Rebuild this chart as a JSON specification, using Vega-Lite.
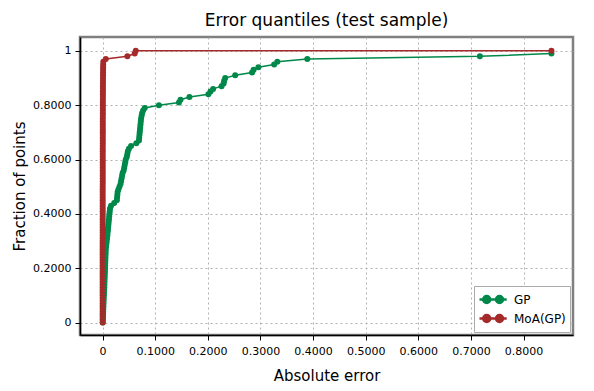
{
  "$schema": "https://vega.github.io/schema/vega-lite/v6.json",
  "autosize": {"type": "none"},
  "width": 493,
  "height": 298,
  "padding": {"left": 80, "top": 37, "right": 21, "bottom": 56},
  "config": {
    "font": "DejaVu Sans",
    "view": {"stroke": "#808080", "strokeWidth": 2.5},
    "axis": {
      "domainColor": "#000000",
      "domainWidth": 1.5,
      "tickColor": "#000000",
      "tickSize": 5,
      "tickWidth": 1,
      "labelFont": "DejaVu Sans",
      "labelFontSize": 11,
      "labelColor": "#000000",
      "titleFont": "DejaVu Sans",
      "titleFontSize": 15,
      "titleFontWeight": "normal",
      "titleColor": "#000000",
      "gridColor": "#b0b0b0",
      "gridDash": [2, 3],
      "gridWidth": 1
    }
  },
  "title": {
    "text": "Error quantiles (test sample)",
    "font": "DejaVu Sans",
    "fontSize": 17,
    "fontWeight": "normal",
    "color": "#000000",
    "anchor": "middle",
    "offset": 7
  },
  "datasets": {
    "pts": [
      {"s": "GP", "x": 0.0003, "y": 0.00},
      {"s": "GP", "x": 0.0005, "y": 0.01},
      {"s": "GP", "x": 0.0007, "y": 0.02},
      {"s": "GP", "x": 0.0009, "y": 0.03},
      {"s": "GP", "x": 0.0011, "y": 0.04},
      {"s": "GP", "x": 0.0013, "y": 0.05},
      {"s": "GP", "x": 0.0015, "y": 0.06},
      {"s": "GP", "x": 0.0017, "y": 0.07},
      {"s": "GP", "x": 0.0019, "y": 0.08},
      {"s": "GP", "x": 0.0022, "y": 0.09},
      {"s": "GP", "x": 0.0025, "y": 0.10},
      {"s": "GP", "x": 0.0028, "y": 0.11},
      {"s": "GP", "x": 0.0030, "y": 0.12},
      {"s": "GP", "x": 0.0032, "y": 0.13},
      {"s": "GP", "x": 0.0034, "y": 0.14},
      {"s": "GP", "x": 0.0036, "y": 0.15},
      {"s": "GP", "x": 0.0038, "y": 0.16},
      {"s": "GP", "x": 0.0040, "y": 0.17},
      {"s": "GP", "x": 0.0042, "y": 0.18},
      {"s": "GP", "x": 0.0044, "y": 0.19},
      {"s": "GP", "x": 0.0046, "y": 0.20},
      {"s": "GP", "x": 0.0048, "y": 0.21},
      {"s": "GP", "x": 0.0050, "y": 0.22},
      {"s": "GP", "x": 0.0052, "y": 0.23},
      {"s": "GP", "x": 0.0054, "y": 0.24},
      {"s": "GP", "x": 0.0056, "y": 0.25},
      {"s": "GP", "x": 0.0058, "y": 0.26},
      {"s": "GP", "x": 0.0060, "y": 0.27},
      {"s": "GP", "x": 0.0066, "y": 0.28},
      {"s": "GP", "x": 0.0072, "y": 0.29},
      {"s": "GP", "x": 0.0078, "y": 0.30},
      {"s": "GP", "x": 0.0084, "y": 0.31},
      {"s": "GP", "x": 0.0090, "y": 0.32},
      {"s": "GP", "x": 0.0095, "y": 0.33},
      {"s": "GP", "x": 0.0100, "y": 0.34},
      {"s": "GP", "x": 0.0105, "y": 0.35},
      {"s": "GP", "x": 0.0110, "y": 0.36},
      {"s": "GP", "x": 0.0115, "y": 0.37},
      {"s": "GP", "x": 0.0120, "y": 0.38},
      {"s": "GP", "x": 0.0125, "y": 0.39},
      {"s": "GP", "x": 0.0130, "y": 0.40},
      {"s": "GP", "x": 0.0135, "y": 0.41},
      {"s": "GP", "x": 0.0140, "y": 0.42},
      {"s": "GP", "x": 0.0160, "y": 0.43},
      {"s": "GP", "x": 0.0220, "y": 0.44},
      {"s": "GP", "x": 0.0270, "y": 0.45},
      {"s": "GP", "x": 0.0275, "y": 0.46},
      {"s": "GP", "x": 0.0280, "y": 0.47},
      {"s": "GP", "x": 0.0285, "y": 0.48},
      {"s": "GP", "x": 0.0300, "y": 0.49},
      {"s": "GP", "x": 0.0320, "y": 0.50},
      {"s": "GP", "x": 0.0340, "y": 0.51},
      {"s": "GP", "x": 0.0350, "y": 0.52},
      {"s": "GP", "x": 0.0360, "y": 0.53},
      {"s": "GP", "x": 0.0370, "y": 0.54},
      {"s": "GP", "x": 0.0380, "y": 0.55},
      {"s": "GP", "x": 0.0400, "y": 0.56},
      {"s": "GP", "x": 0.0410, "y": 0.57},
      {"s": "GP", "x": 0.0420, "y": 0.58},
      {"s": "GP", "x": 0.0430, "y": 0.59},
      {"s": "GP", "x": 0.0440, "y": 0.60},
      {"s": "GP", "x": 0.0460, "y": 0.61},
      {"s": "GP", "x": 0.0470, "y": 0.62},
      {"s": "GP", "x": 0.0480, "y": 0.63},
      {"s": "GP", "x": 0.0500, "y": 0.64},
      {"s": "GP", "x": 0.0540, "y": 0.65},
      {"s": "GP", "x": 0.0640, "y": 0.66},
      {"s": "GP", "x": 0.0690, "y": 0.67},
      {"s": "GP", "x": 0.0695, "y": 0.68},
      {"s": "GP", "x": 0.0700, "y": 0.69},
      {"s": "GP", "x": 0.0705, "y": 0.70},
      {"s": "GP", "x": 0.0710, "y": 0.71},
      {"s": "GP", "x": 0.0715, "y": 0.72},
      {"s": "GP", "x": 0.0720, "y": 0.73},
      {"s": "GP", "x": 0.0725, "y": 0.74},
      {"s": "GP", "x": 0.0730, "y": 0.75},
      {"s": "GP", "x": 0.0740, "y": 0.76},
      {"s": "GP", "x": 0.0750, "y": 0.77},
      {"s": "GP", "x": 0.0770, "y": 0.78},
      {"s": "GP", "x": 0.0800, "y": 0.79},
      {"s": "GP", "x": 0.1070, "y": 0.80},
      {"s": "GP", "x": 0.1450, "y": 0.81},
      {"s": "GP", "x": 0.1480, "y": 0.82},
      {"s": "GP", "x": 0.1650, "y": 0.83},
      {"s": "GP", "x": 0.2010, "y": 0.84},
      {"s": "GP", "x": 0.2050, "y": 0.85},
      {"s": "GP", "x": 0.2100, "y": 0.86},
      {"s": "GP", "x": 0.2260, "y": 0.87},
      {"s": "GP", "x": 0.2300, "y": 0.88},
      {"s": "GP", "x": 0.2310, "y": 0.89},
      {"s": "GP", "x": 0.2330, "y": 0.90},
      {"s": "GP", "x": 0.2520, "y": 0.91},
      {"s": "GP", "x": 0.2840, "y": 0.92},
      {"s": "GP", "x": 0.2870, "y": 0.93},
      {"s": "GP", "x": 0.2960, "y": 0.94},
      {"s": "GP", "x": 0.3260, "y": 0.95},
      {"s": "GP", "x": 0.3320, "y": 0.96},
      {"s": "GP", "x": 0.3890, "y": 0.97},
      {"s": "GP", "x": 0.7170, "y": 0.98},
      {"s": "GP", "x": 0.8530, "y": 0.99},
      {"s": "MoA(GP)", "x": 0.0000, "y": 0.00},
      {"s": "MoA(GP)", "x": 0.0000, "y": 0.01},
      {"s": "MoA(GP)", "x": 0.0000, "y": 0.02},
      {"s": "MoA(GP)", "x": 0.0000, "y": 0.03},
      {"s": "MoA(GP)", "x": 0.0000, "y": 0.04},
      {"s": "MoA(GP)", "x": 0.0000, "y": 0.05},
      {"s": "MoA(GP)", "x": 0.0000, "y": 0.06},
      {"s": "MoA(GP)", "x": 0.0000, "y": 0.07},
      {"s": "MoA(GP)", "x": 0.0000, "y": 0.08},
      {"s": "MoA(GP)", "x": 0.0000, "y": 0.09},
      {"s": "MoA(GP)", "x": 0.0000, "y": 0.10},
      {"s": "MoA(GP)", "x": 0.0000, "y": 0.11},
      {"s": "MoA(GP)", "x": 0.0000, "y": 0.12},
      {"s": "MoA(GP)", "x": 0.0000, "y": 0.13},
      {"s": "MoA(GP)", "x": 0.0000, "y": 0.14},
      {"s": "MoA(GP)", "x": 0.0000, "y": 0.15},
      {"s": "MoA(GP)", "x": 0.0000, "y": 0.16},
      {"s": "MoA(GP)", "x": 0.0000, "y": 0.17},
      {"s": "MoA(GP)", "x": 0.0000, "y": 0.18},
      {"s": "MoA(GP)", "x": 0.0000, "y": 0.19},
      {"s": "MoA(GP)", "x": 0.0000, "y": 0.20},
      {"s": "MoA(GP)", "x": 0.0000, "y": 0.21},
      {"s": "MoA(GP)", "x": 0.0000, "y": 0.22},
      {"s": "MoA(GP)", "x": 0.0000, "y": 0.23},
      {"s": "MoA(GP)", "x": 0.0000, "y": 0.24},
      {"s": "MoA(GP)", "x": 0.0000, "y": 0.25},
      {"s": "MoA(GP)", "x": 0.0000, "y": 0.26},
      {"s": "MoA(GP)", "x": 0.0000, "y": 0.27},
      {"s": "MoA(GP)", "x": 0.0000, "y": 0.28},
      {"s": "MoA(GP)", "x": 0.0000, "y": 0.29},
      {"s": "MoA(GP)", "x": 0.0000, "y": 0.30},
      {"s": "MoA(GP)", "x": 0.0001, "y": 0.31},
      {"s": "MoA(GP)", "x": 0.0001, "y": 0.32},
      {"s": "MoA(GP)", "x": 0.0001, "y": 0.33},
      {"s": "MoA(GP)", "x": 0.0001, "y": 0.34},
      {"s": "MoA(GP)", "x": 0.0001, "y": 0.35},
      {"s": "MoA(GP)", "x": 0.0001, "y": 0.36},
      {"s": "MoA(GP)", "x": 0.0001, "y": 0.37},
      {"s": "MoA(GP)", "x": 0.0001, "y": 0.38},
      {"s": "MoA(GP)", "x": 0.0001, "y": 0.39},
      {"s": "MoA(GP)", "x": 0.0001, "y": 0.40},
      {"s": "MoA(GP)", "x": 0.0001, "y": 0.41},
      {"s": "MoA(GP)", "x": 0.0001, "y": 0.42},
      {"s": "MoA(GP)", "x": 0.0001, "y": 0.43},
      {"s": "MoA(GP)", "x": 0.0001, "y": 0.44},
      {"s": "MoA(GP)", "x": 0.0001, "y": 0.45},
      {"s": "MoA(GP)", "x": 0.0001, "y": 0.46},
      {"s": "MoA(GP)", "x": 0.0001, "y": 0.47},
      {"s": "MoA(GP)", "x": 0.0001, "y": 0.48},
      {"s": "MoA(GP)", "x": 0.0001, "y": 0.49},
      {"s": "MoA(GP)", "x": 0.0001, "y": 0.50},
      {"s": "MoA(GP)", "x": 0.0002, "y": 0.51},
      {"s": "MoA(GP)", "x": 0.0002, "y": 0.52},
      {"s": "MoA(GP)", "x": 0.0002, "y": 0.53},
      {"s": "MoA(GP)", "x": 0.0002, "y": 0.54},
      {"s": "MoA(GP)", "x": 0.0002, "y": 0.55},
      {"s": "MoA(GP)", "x": 0.0002, "y": 0.56},
      {"s": "MoA(GP)", "x": 0.0002, "y": 0.57},
      {"s": "MoA(GP)", "x": 0.0002, "y": 0.58},
      {"s": "MoA(GP)", "x": 0.0002, "y": 0.59},
      {"s": "MoA(GP)", "x": 0.0002, "y": 0.60},
      {"s": "MoA(GP)", "x": 0.0002, "y": 0.61},
      {"s": "MoA(GP)", "x": 0.0002, "y": 0.62},
      {"s": "MoA(GP)", "x": 0.0002, "y": 0.63},
      {"s": "MoA(GP)", "x": 0.0002, "y": 0.64},
      {"s": "MoA(GP)", "x": 0.0002, "y": 0.65},
      {"s": "MoA(GP)", "x": 0.0003, "y": 0.66},
      {"s": "MoA(GP)", "x": 0.0003, "y": 0.67},
      {"s": "MoA(GP)", "x": 0.0003, "y": 0.68},
      {"s": "MoA(GP)", "x": 0.0003, "y": 0.69},
      {"s": "MoA(GP)", "x": 0.0003, "y": 0.70},
      {"s": "MoA(GP)", "x": 0.0003, "y": 0.71},
      {"s": "MoA(GP)", "x": 0.0003, "y": 0.72},
      {"s": "MoA(GP)", "x": 0.0003, "y": 0.73},
      {"s": "MoA(GP)", "x": 0.0003, "y": 0.74},
      {"s": "MoA(GP)", "x": 0.0003, "y": 0.75},
      {"s": "MoA(GP)", "x": 0.0004, "y": 0.76},
      {"s": "MoA(GP)", "x": 0.0004, "y": 0.77},
      {"s": "MoA(GP)", "x": 0.0004, "y": 0.78},
      {"s": "MoA(GP)", "x": 0.0004, "y": 0.79},
      {"s": "MoA(GP)", "x": 0.0004, "y": 0.80},
      {"s": "MoA(GP)", "x": 0.0004, "y": 0.81},
      {"s": "MoA(GP)", "x": 0.0005, "y": 0.82},
      {"s": "MoA(GP)", "x": 0.0005, "y": 0.83},
      {"s": "MoA(GP)", "x": 0.0005, "y": 0.84},
      {"s": "MoA(GP)", "x": 0.0005, "y": 0.85},
      {"s": "MoA(GP)", "x": 0.0006, "y": 0.86},
      {"s": "MoA(GP)", "x": 0.0006, "y": 0.87},
      {"s": "MoA(GP)", "x": 0.0006, "y": 0.88},
      {"s": "MoA(GP)", "x": 0.0007, "y": 0.89},
      {"s": "MoA(GP)", "x": 0.0007, "y": 0.90},
      {"s": "MoA(GP)", "x": 0.0008, "y": 0.91},
      {"s": "MoA(GP)", "x": 0.0008, "y": 0.92},
      {"s": "MoA(GP)", "x": 0.0009, "y": 0.93},
      {"s": "MoA(GP)", "x": 0.0010, "y": 0.94},
      {"s": "MoA(GP)", "x": 0.0011, "y": 0.95},
      {"s": "MoA(GP)", "x": 0.0013, "y": 0.96},
      {"s": "MoA(GP)", "x": 0.0060, "y": 0.97},
      {"s": "MoA(GP)", "x": 0.0470, "y": 0.98},
      {"s": "MoA(GP)", "x": 0.0610, "y": 0.99},
      {"s": "MoA(GP)", "x": 0.0630, "y": 1.00},
      {"s": "MoA(GP)", "x": 0.8530, "y": 1.00}
    ]
  },
  "data": {"name": "pts"},
  "encoding": {
    "x": {
      "field": "x",
      "type": "quantitative",
      "title": "Absolute error",
      "scale": {"domain": [-0.043, 0.894], "nice": false, "zero": false},
      "axis": {
        "values": [0, 0.1, 0.2, 0.3, 0.4, 0.5, 0.6, 0.7, 0.8],
        "labelExpr": "datum.value == 0 ? '0' : format(datum.value, '.4f')",
        "labelPadding": 5,
        "titlePadding": 12
      }
    },
    "y": {
      "field": "y",
      "type": "quantitative",
      "title": "Fraction of points",
      "scale": {"domain": [-0.046, 1.051], "nice": false, "zero": false},
      "axis": {
        "values": [0, 0.2, 0.4, 0.6, 0.8, 1],
        "labelExpr": "datum.value == 0 ? '0' : datum.value == 1 ? '1' : format(datum.value, '.4f')",
        "labelPadding": 4,
        "titlePadding": 5
      }
    },
    "color": {
      "field": "s",
      "type": "nominal",
      "scale": {"domain": ["GP", "MoA(GP)"], "range": ["#00884a", "#a52a2a"]},
      "legend": {
        "title": null,
        "orient": "bottom-right",
        "offset": 3,
        "padding": 4,
        "strokeColor": "#aaaaaa",
        "fillColor": "#ffffff",
        "cornerRadius": 0,
        "labelFont": "DejaVu Sans",
        "labelFontSize": 12,
        "labelColor": "#000000",
        "labelOffset": 17,
        "symbolType": "M-1,0L2.4,0M0.34,0A0.44,0.44,0,1,1,-0.54,0A0.44,0.44,0,1,1,0.34,0ZM1.94,0A0.44,0.44,0,1,1,1.06,0A0.44,0.44,0,1,1,1.94,0Z",
        "symbolSize": 256,
        "symbolStrokeWidth": 2.5,
        "rowPadding": 0,
        "encode": {
          "symbols": {
            "update": {
              "fill": {"scale": "color", "field": "value"},
              "stroke": {"scale": "color", "field": "value"},
              "opacity": {"value": 1}
            }
          }
        }
      }
    },
    "order": {"field": "y", "type": "quantitative"}
  },
  "mark": {
    "type": "line",
    "strokeWidth": 1.5,
    "point": {"filled": true, "size": 36, "opacity": 1}
  }
}
